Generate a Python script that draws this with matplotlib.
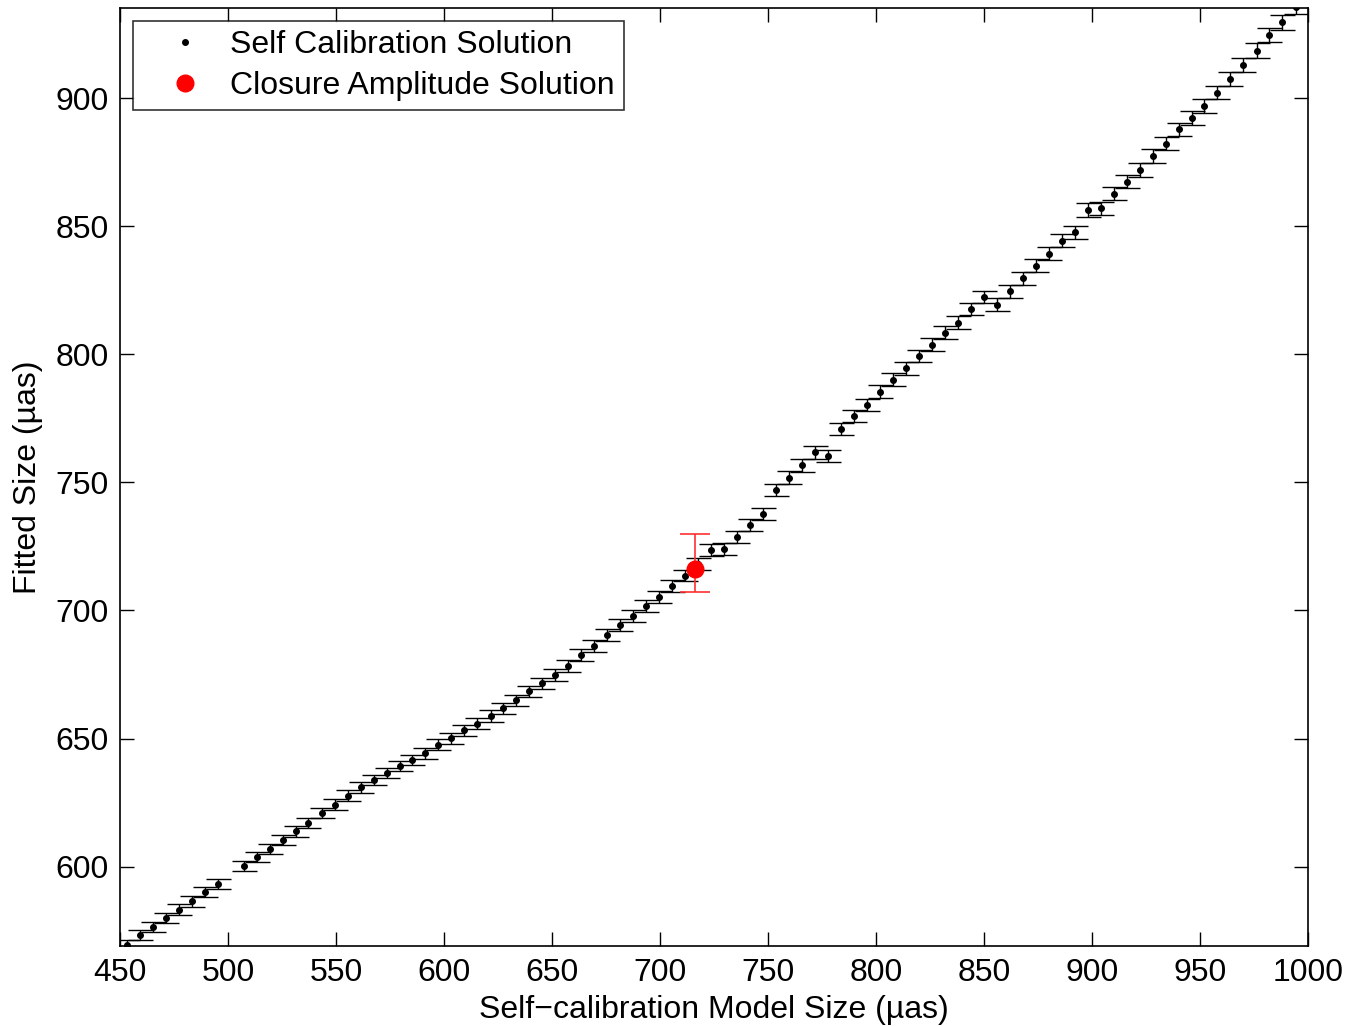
import matplotlib
matplotlib.use("Agg")
import matplotlib.pyplot as plt
import numpy as np

plt.rcParams['font.family'] = ['Liberation Sans', 'DejaVu Sans']

# self-calibration model size vs fitted size (uas)
model_size = [
    453.1, 459.3, 465.1, 471.2, 477.2, 483.2, 489.2, 495.2, 507.3, 513.3,
    519.3, 525.3, 531.3, 537.2, 543.4, 549.3, 555.4, 561.4, 567.5, 573.5,
    579.5, 585.3, 591.3, 597.4, 603.4, 609.4, 615.4, 621.6, 627.5, 633.5,
    639.5, 645.5, 651.5, 657.5, 663.6, 669.6, 675.6, 681.6, 687.6, 693.7,
    699.5, 705.6, 711.6, 717.6, 723.6, 729.6, 735.6, 741.7, 747.7, 753.7,
    759.7, 765.7, 771.6, 777.6, 783.8, 789.7, 795.7, 801.8, 807.9, 813.9,
    819.9, 825.9, 831.9, 838.0, 844.0, 850.0, 856.0, 862.0, 868.0, 873.9,
    879.9, 886.0, 892.0, 898.0, 904.0, 910.0, 916.1, 922.1, 928.1, 934.1,
    940.1, 946.2, 952.0, 958.0, 964.0, 970.0, 976.3, 982.1, 988.1, 994.3,
]
fitted_size = [
    569.5, 573.2, 576.5, 579.8, 583.2, 586.4, 590.1, 593.3, 600.3, 603.7,
    606.8, 610.4, 613.7, 617.0, 620.9, 624.1, 627.6, 631.0, 633.8, 636.5,
    639.3, 641.6, 644.2, 647.6, 650.1, 653.2, 655.8, 658.8, 661.8, 664.9,
    668.4, 671.5, 674.8, 678.4, 682.7, 686.2, 690.3, 694.2, 697.7, 701.6,
    705.3, 709.6, 713.6, 718.0, 723.5, 724.1, 728.8, 733.3, 737.7, 747.1,
    751.9, 756.6, 761.7, 760.4, 770.8, 775.8, 780.2, 785.4, 790.1, 794.6,
    799.3, 803.8, 808.4, 812.4, 817.7, 822.4, 819.4, 824.6, 829.7, 834.6,
    839.3, 844.4, 847.6, 856.3, 857.0, 862.7, 867.4, 872.0, 877.3, 882.3,
    887.8, 892.3, 896.9, 902.2, 907.5, 912.9, 918.6, 924.7, 929.6, 935.6,
]
fitted_err = [
    1.9, 1.9, 1.9, 2.0, 2.0, 2.0, 2.0, 2.0, 2.0, 2.0,
    2.0, 2.0, 2.0, 2.0, 2.0, 2.1, 2.1, 2.1, 2.1, 2.1,
    2.1, 2.1, 2.1, 2.2, 2.2, 2.2, 2.2, 2.2, 2.2, 2.2,
    2.2, 2.2, 2.3, 2.3, 2.3, 2.3, 2.3, 2.3, 2.3, 2.3,
    2.3, 2.3, 2.3, 2.4, 2.4, 2.4, 2.4, 2.4, 2.4, 2.4,
    2.4, 2.4, 2.4, 2.4, 2.4, 2.4, 2.4, 2.5, 2.5, 2.5,
    2.5, 2.5, 2.5, 2.5, 2.5, 2.5, 2.5, 2.5, 2.6, 2.6,
    2.6, 2.6, 2.6, 2.6, 2.6, 2.6, 2.6, 2.7, 2.7, 2.7,
    2.7, 2.7, 2.7, 2.7, 2.7, 2.7, 2.8, 2.8, 2.8, 2.8,
]

# closure amplitude solution
ca_model = [716.2]
ca_fit = [716.3]
ca_err_lo = [9.2]
ca_err_hi = [13.7]

fig = plt.figure(figsize=(13.64, 10.27), dpi=100)
ax = fig.add_axes([0.088, 0.0789, 0.871, 0.9133])

ax.errorbar(model_size, fitted_size, yerr=fitted_err, fmt='none',
            ecolor='black', elinewidth=1.0, capsize=9, capthick=1.0)
ax.plot(model_size, fitted_size, linestyle='none', marker='o', markersize=4,
        color='black', label='Self Calibration Solution')

ax.errorbar(ca_model, ca_fit, yerr=[ca_err_lo, ca_err_hi], fmt='none',
            ecolor='#ff3030', elinewidth=1.2, capsize=11, capthick=1.2)
ax.plot(ca_model, ca_fit, linestyle='none', marker='o', markersize=12,
        color='red', label='Closure Amplitude Solution')

ax.set_xlim(450, 1000)
ax.set_ylim(569, 935.2)
ax.set_xticks(np.arange(450, 1001, 50))
ax.set_yticks(np.arange(600, 901, 50))

ax.tick_params(direction='in', length=10, width=1, labelsize=23,
               top=True, right=True)
ax.tick_params(axis='x', pad=9)
ax.tick_params(axis='y', pad=8)
for s in ax.spines.values():
    s.set_linewidth(1.2)

ax.set_xlabel('Self\u2212calibration Model Size (\u00b5as)', fontsize=23, labelpad=5)
ax.set_ylabel('Fitted Size (\u00b5as)', fontsize=23, labelpad=9)

leg = ax.legend(loc='upper left', fontsize=23, frameon=True, fancybox=False,
                borderaxespad=0.4, handlelength=2.65, handletextpad=0.08,
                borderpad=0.3, labelspacing=0.33, markerscale=1.0)
leg.get_frame().set_edgecolor('black')
leg.get_frame().set_linewidth(1.2)

fig.savefig('out.png', dpi=100)
